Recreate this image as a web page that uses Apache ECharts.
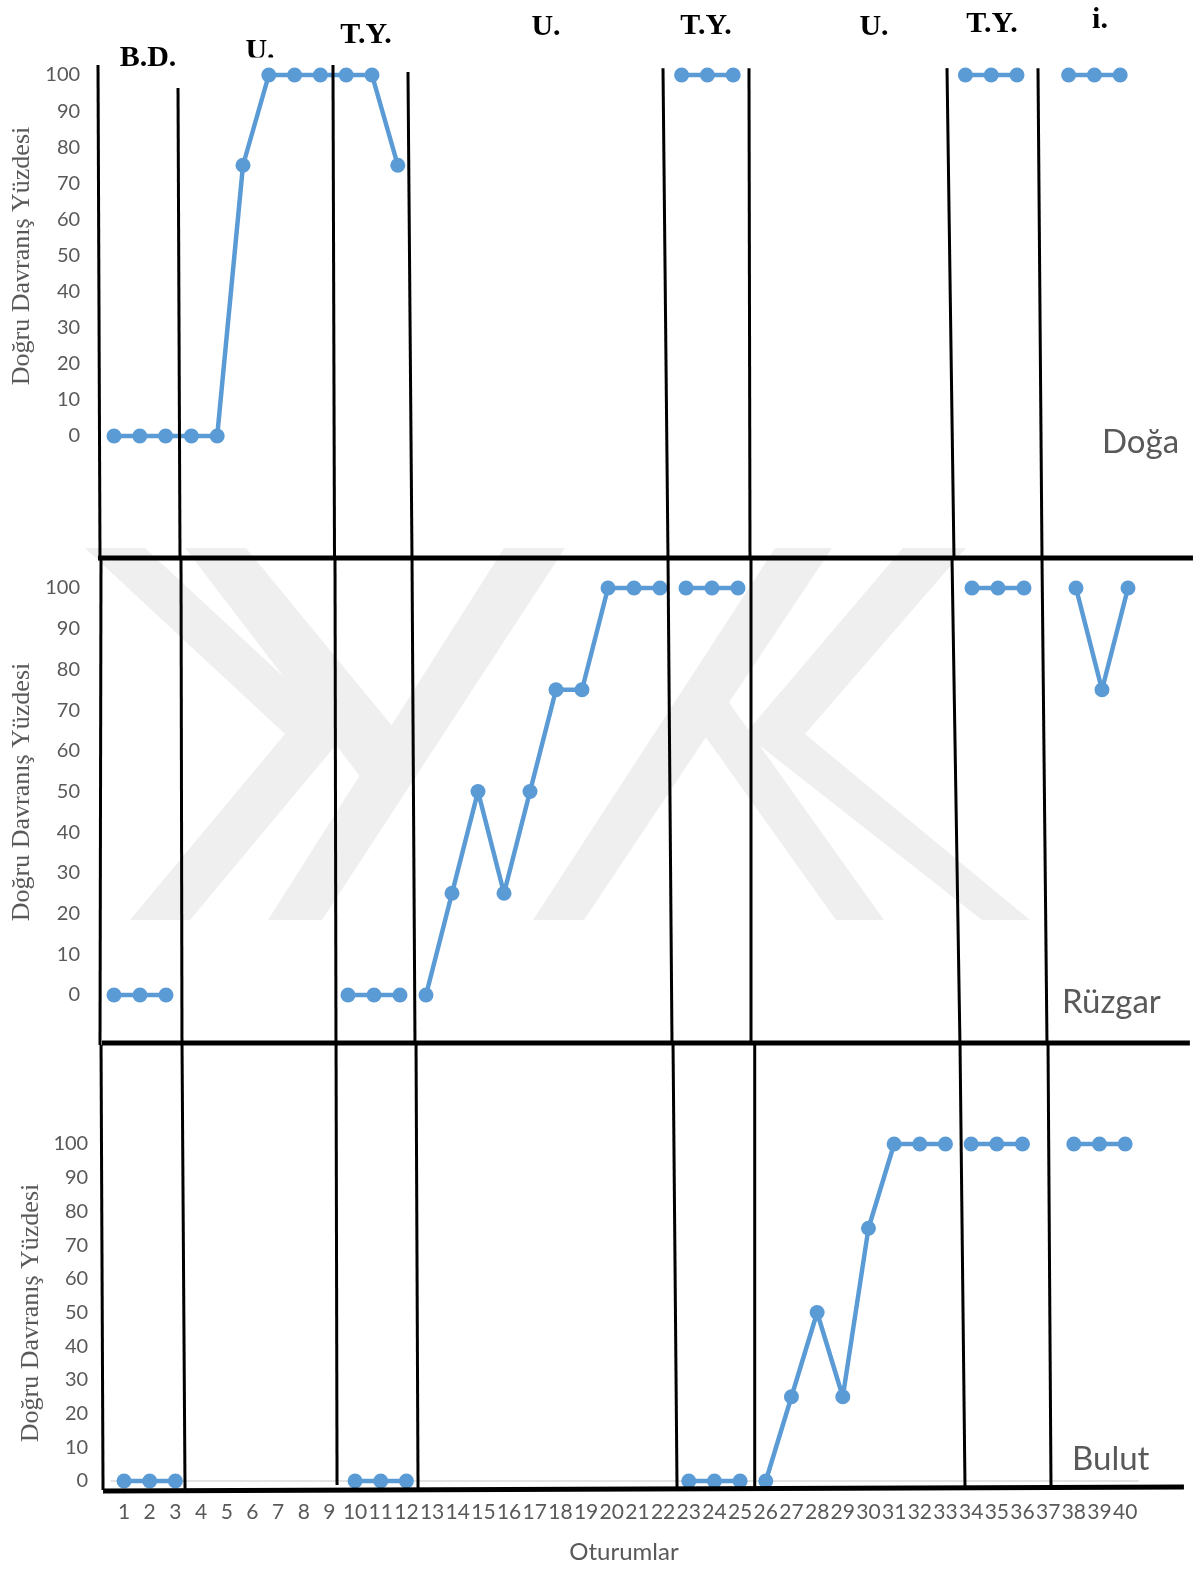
<!DOCTYPE html>
<html><head><meta charset="utf-8">
<script src="https://cdn.jsdelivr.net/npm/echarts@6.0.0/dist/echarts.min.js"></script>
<style>html,body{margin:0;padding:0;background:#fff}#chart{width:1193px;height:1569px}</style>
</head><body><div id="chart"></div>
<script>
// ---- tick labels / categories ----
const sessions = ['1','2','3','4','5','6','7','8','9','10','11','12','13','14','15','16','17','18','19','20',
                  '21','22','23','24','25','26','27','28','29','30','31','32','33','34','35','36','37','38','39','40'];
// ---- series values (percentage of correct behaviour per session) ----
const doga   = [0,0,0,0,0,75,100,100,100,100,100,75, null,null,null,null,null,null,null,null,null,null,
                100,100,100, null,null,null,null,null,null,null,null, 100,100,100, null, 100,100,100];
const ruzgar = [0,0,0, null,null,null,null,null,null, 0,0,0, 0,25,50,25,50,75,75,100,100,100,
                100,100,100, null,null,null,null,null,null,null,null, 100,100,100, null, 100,75,100];
const bulut  = [0,0,0, null,null,null,null,null,null, 0,0,0, null,null,null,null,null,null,null,null,null,null,
                0,0,0, 0,25,50,25,75,100,100,100, 100,100,100, null, 100,100,100];
// connected runs of sessions (first, last)
const dogaRuns   = [[1,12],[23,25],[34,36],[38,40]];
const ruzgarRuns = [[1,3],[10,12],[13,22],[23,25],[34,36],[38,40]];
const bulutRuns  = [[1,3],[10,12],[23,25],[26,33],[34,36],[38,40]];
// phase-change lines (hand drawn): [sessionTop, valueTop, sessionBottom, valueBottom]
const dogaPhase   = [[0.380,102.8,0.457,-33.8],[3.481,96.4,3.558,-33.8],[9.488,102.8,9.547,-33.8],[12.395,100.8,12.550,-33.8],
                     [22.279,101.9,22.473,-33.8],[25.612,101.9,25.651,-33.8],[33.287,101.9,33.558,-33.8],[36.814,101.9,36.969,-33.8]];
const ruzgarPhase = [[0.500,107.4,0.462,-12.3],[3.577,107.4,3.615,-12.3],[9.500,107.4,9.538,-12.3],[12.462,107.4,12.577,-12.3],
                     [22.308,107.4,22.462,-12.3],[25.500,107.4,25.500,-12.3],[33.231,107.4,33.538,-12.3],[36.692,107.4,36.885,-12.3]];
const bulutPhase  = [[0.104,129.4,0.182,-2.67],[3.259,129.4,3.376,-2.67],[9.259,129.4,9.298,-1.19],[12.375,129.4,12.453,-2.67],
                     [22.387,129.4,22.543,-2.67],[25.569,129.4,25.569,-2.67],[33.567,129.4,33.762,-2.67],[36.995,129.4,37.112,-2.67]];
// panel frame lines: [s1, v1, s2, v2]
const dogaFrame   = [[0.380,-33.8,42.82,-33.8]];
const ruzgarFrame = [[0.538,-11.8,42.38,-11.8]];
const bulutFrame  = [[0.182,-2.97,42.29,-1.78]];
// texts
const phaseLabels = ['B.D.','U.','T.Y.','U.','T.Y.','U.','T.Y.','i.'];
const panelNames  = ['Doğa','Rüzgar','Bulut'];
const yTitle = 'Doğru Davranış Yüzdesi';
const xTitle = 'Oturumlar';

const BLUE = '#5b9bd5', GRAY = '#595959';
const SANS = 'Lato';
const SERIF = '"Liberation Serif", "DejaVu Serif", serif';

function runSeries(values, runs, idx) {
  return runs.map(([a, b]) => {
    const pts = [];
    for (let s = a; s <= b; s++) pts.push([Number(sessions[s - 1]), values[s - 1]]);
    return {
      type: 'line', xAxisIndex: idx, yAxisIndex: idx, data: pts, clip: false,
      symbol: 'circle', symbolSize: 15, showSymbol: true,
      lineStyle: { color: BLUE, width: 4.5 }, itemStyle: { color: BLUE },
      z: 3, silent: true
    };
  });
}

const grids = [
  { left: 101.1, width: 1032, top: 75, height: 361 },
  { left: 101, width: 1040, top: 588, height: 407 },
  { left: 111.2, width: 1026.8, top: 1144, height: 337 }
];
const labelMargins = [21, 21, 23];

const xAxes = grids.map((g, i) => ({ type: 'value', gridIndex: i, min: 0.5, max: 40.5, show: false, position: 'top' }));
xAxes.push({
  type: 'category', gridIndex: 2, data: sessions, boundaryGap: true, position: 'bottom',
  axisLine: { show: true, onZero: false, lineStyle: { color: '#d9d9d9', width: 1.5 } },
  axisTick: { show: false },
  axisLabel: { interval: 0, color: GRAY, fontFamily: SANS, fontSize: 21, margin: 21 },
  splitLine: { show: false }
});
const yAxes = grids.map((g, i) => ({
  type: 'value', gridIndex: i, min: 0, max: 100, interval: 10,
  axisLine: { show: false }, axisTick: { show: false }, splitLine: { show: false },
  axisLabel: { color: GRAY, fontFamily: SANS, fontSize: 20, margin: labelMargins[i] }
}));

const series = [].concat(
  runSeries(doga, dogaRuns, 0), runSeries(ruzgar, ruzgarRuns, 1), runSeries(bulut, bulutRuns, 2)
);

// faint watermark (background decoration)
const WM = '#efefef';
const watermark = [
  [[85,548],[145,548],[345,734],[190,920],[130,920],[285,734]],
  [[185,548],[246,548],[420,760],[372,792]],
  [[504,548],[565,548],[322,920],[268,920]],
  [[775,548],[832,548],[584,920],[533,920]],
  [[690,715],[720,690],[884,920],[836,920]],
  [[903,548],[966,548],[805,734],[1030,920],[982,920],[745,734]]
].map(pts => ({ type: 'polygon', z: 0, silent: true, shape: { points: pts }, style: { fill: WM } }));

const phasePos = [[148,58],[260,51],[366,35],[546,27],[706,26],[874,27],[992,24],[1100,20]];
const phaseTexts = phaseLabels.map((t, i) => ({
  type: 'text', z: 1, x: phasePos[i][0], y: phasePos[i][1],
  style: { text: t, font: 'bold 30px ' + SERIF, fill: '#000', align: 'center', verticalAlign: 'middle' }
}));
const mask = { type: 'rect', z: 2, shape: { x: 238, y: 57.5, width: 48, height: 7 }, style: { fill: '#fff' } };

const namePos = [[1102,442],[1062,1002],[1072,1459]];
const nameTexts = panelNames.map((t, i) => ({
  type: 'text', z: 1, x: namePos[i][0], y: namePos[i][1],
  style: { text: t, font: '33px ' + SANS, fill: GRAY, align: 'left', verticalAlign: 'middle' }
}));
const yTitlePos = [[22,256],[22,792],[31,1313]];
const yTitles = yTitlePos.map(p => ({
  type: 'text', z: 1, x: p[0], y: p[1], rotation: Math.PI / 2,
  style: { text: yTitle, font: '26px ' + SERIF, fill: GRAY, align: 'center', verticalAlign: 'middle' }
}));
const xTitleEl = {
  type: 'text', z: 1, x: 624, y: 1552,
  style: { text: xTitle, font: '24px ' + SANS, fill: GRAY, align: 'center', verticalAlign: 'middle' }
};

const chart = echarts.init(document.getElementById('chart'), null, { renderer: 'canvas' });
chart.setOption({
  animation: false,
  backgroundColor: '#fff',
  grid: grids.map(g => Object.assign({ containLabel: false, outerBoundsMode: 'none' }, g)),
  xAxis: xAxes,
  yAxis: yAxes,
  series: series
});

// phase-change lines and frame lines positioned through each panel's axes
function toLines(list, idx, width, z) {
  return list.map(([s1, v1, s2, v2]) => {
    const p1 = chart.convertToPixel({ xAxisIndex: idx, yAxisIndex: idx }, [s1, v1]);
    const p2 = chart.convertToPixel({ xAxisIndex: idx, yAxisIndex: idx }, [s2, v2]);
    return { type: 'line', z: z, silent: true,
      shape: { x1: p1[0], y1: p1[1], x2: p2[0], y2: p2[1] },
      style: { stroke: '#000', lineWidth: width, lineCap: 'butt' } };
  });
}
const lineEls = [].concat(
  toLines(dogaPhase, 0, 3, 4), toLines(ruzgarPhase, 1, 3, 4), toLines(bulutPhase, 2, 3, 4),
  toLines(dogaFrame, 0, 5, 5), toLines(ruzgarFrame, 1, 5, 5), toLines(bulutFrame, 2, 5, 5)
);

chart.setOption({
  graphic: { elements: [].concat(watermark, phaseTexts, [mask], nameTexts, yTitles, [xTitleEl], lineEls) }
});
</script>
</body></html>
